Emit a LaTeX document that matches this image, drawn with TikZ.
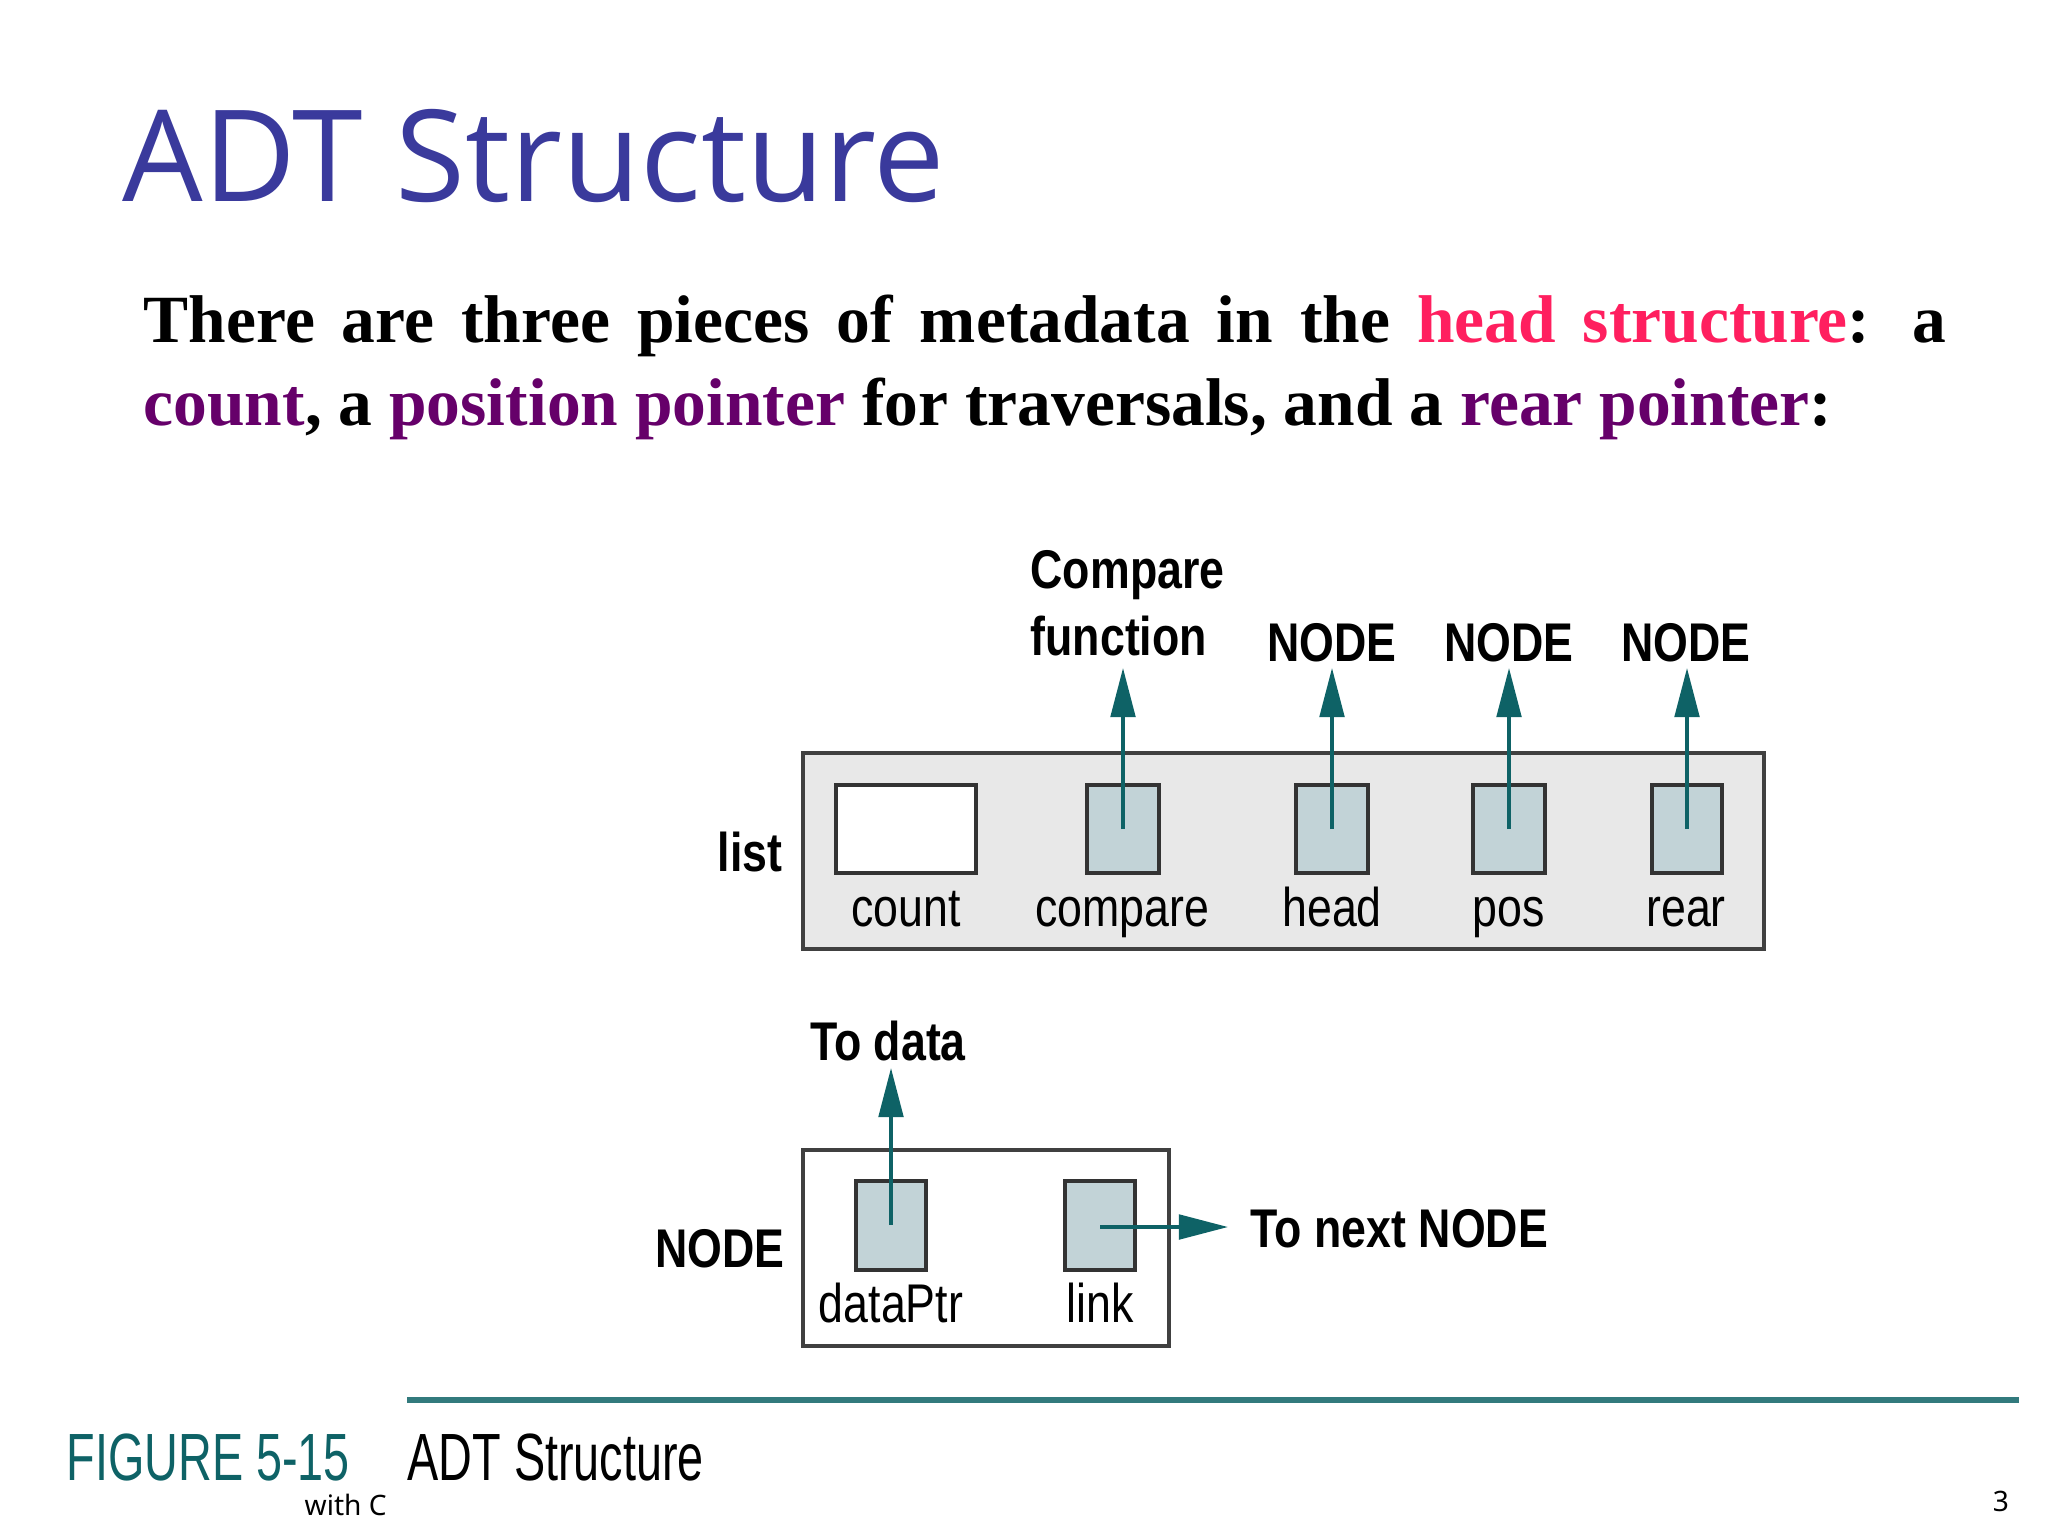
\documentclass[tikz,border=0pt]{standalone}
\usetikzlibrary{arrows.meta}
\usepackage{fontspec}
\setmainfont{Liberation Serif}
\newfontfamily\osans{Open Sans}
\newfontfamily\cond[FakeStretch=0.82]{Liberation Sans}
\newfontfamily\capf[FakeStretch=0.7]{Liberation Sans}
\newfontfamily\notos{Noto Sans}
\definecolor{titleblue}{HTML}{3A3A9C}
\definecolor{pinkh}{HTML}{FF1F5F}
\definecolor{purp}{HTML}{66006A}
\definecolor{teal}{HTML}{0E6266}
\definecolor{boxfill}{HTML}{C2D3D7}
\definecolor{listfill}{HTML}{E8E8E8}
\begin{document}
\begin{tikzpicture}[x=0.01cm,y=-0.01cm,
  lbl/.style={font=\cond\fontsize{15.5}{18}\selectfont,inner sep=0pt,anchor=base},
  blbl/.style={font=\cond\bfseries\fontsize{15.5}{18}\selectfont,inner sep=0pt},
  cell/.style={draw=black!80,line width=1.4pt,fill=boxfill},
  frame/.style={draw=black!75,line width=1.2pt},
  ptr/.style={draw=teal,line width=1pt,-{Triangle[length=14pt,width=7pt]}}]
\useasboundingbox (0,0) rectangle (2048,1536);
\node[anchor=base west,inner sep=0pt,text=titleblue,font=\osans\fontsize{36.2}{40}\selectfont] (title) at (122,201) {ADT Structure};
\node[anchor=north west,inner sep=0pt,text width=18.02cm,align=justify,font=\bfseries\fontsize{19.2}{23.6}\selectfont] (body) at (143,294)
 {There are three pieces of metadata in the \textcolor{pinkh}{head structure}: a \textcolor{purp}{count}, a \textcolor{purp}{position pointer} for traversals, and a \textcolor{purp}{rear pointer}:};
% list box
\path[frame,fill=listfill] (803,753) rectangle (1764,949);
\node[inner sep=0pt] (listbox) at (1283,851) {};
\path[draw=black!80,line width=1.4pt,fill=white] (836,785) rectangle (976,873);
\foreach \n/\a/\b in {cmp/1087/1159,hd/1296/1368,ps/1473/1545,rr/1652/1722}{
  \path[cell] (\a,785) rectangle (\b,873);
  \coordinate (\n) at ({(\a+\b)/2},829);
  \coordinate (\n t) at ({(\a+\b)/2},668);
  \draw[ptr] (\n) -- (\n t);
}
\node[lbl] (lc) at (906,926) {count};
\node[lbl] (lcm) at (1122,926) {compare};
\node[lbl] (lh) at (1332,926) {head};
\node[lbl] (lp) at (1509,926) {pos};
\node[lbl] (lr) at (1686,926) {rear};
\node[blbl,align=left,anchor=base west] (cf) at (1030,588) {Compare};
\node[blbl,align=left,anchor=base west] (cf2) at (1030,655) {function};
\node[blbl] (n1) at (1332,643) {NODE};
\node[blbl] (n2) at (1509,643) {NODE};
\node[blbl] (n3) at (1686,643) {NODE};
\node[blbl] (list) at (750,852) {list};
% NODE box
\path[frame,fill=white] (803,1150) rectangle (1169,1346);
\path[cell] (856,1181) rectangle (926,1270);
\path[cell] (1065,1181) rectangle (1135,1270);
\coordinate (dp) at (891,1225);
\coordinate (dpt) at (891,1068);
\coordinate (lk) at (1100,1227);
\coordinate (lkt) at (1228,1227);
\draw[ptr] (dp) -- (dpt);
\draw[ptr] (lk) -- (lkt);
\node[lbl] (ldp) at (891,1322) {dataPtr};
\node[lbl] (llk) at (1100,1322) {link};
\node[blbl] (td) at (888,1041) {To data};
\node[blbl,anchor=west] (tn) at (1250,1229) {To next NODE};
\node[blbl] (nd) at (720,1249) {NODE};
% caption
\draw[draw=teal!85,line width=1.5pt] (407,1400) coordinate (la) -- (2019,1400) coordinate (lb);
\node[anchor=base west,inner sep=0pt,text=teal,font=\capf\fontsize{19}{24}\selectfont] (fig) at (66,1480) {FIGURE 5-15};
\node[anchor=base west,inner sep=0pt,font=\capf\fontsize{19}{24}\selectfont] (figt) at (407,1480) {ADT Structure};
\node[anchor=base west,inner sep=0pt,font=\notos\fontsize{8}{10}\selectfont] (wc) at (304,1515) {with C};
\node[anchor=base,inner sep=0pt,font=\notos\bfseries\fontsize{8}{10}\selectfont] (pg) at (2001,1511) {3};
\end{tikzpicture}
\end{document}
